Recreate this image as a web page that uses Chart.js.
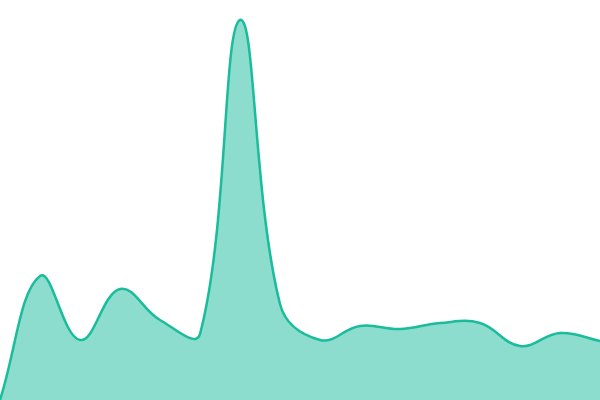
<!DOCTYPE html>
<html>
<head>
<meta charset="utf-8">
<script src="https://cdn.jsdelivr.net/npm/chart.js@4.4.1/dist/chart.umd.min.js"></script>
<style>
  html,body{margin:0;padding:0;background:#fff;}
  #wrap{width:600px;height:400px;}
</style>
</head>
<body>
<div id="wrap"><canvas id="c"></canvas></div>
<script>
// one point every 40px across the width
const labels = ['1','2','3','4','5','6','7','8','9','10','11','12','13','14','15','16'];
const values = [0, 124, 60, 111, 80, 66, 380, 96, 60, 74, 71, 77, 77, 54, 67, 59];
const yMin = 0, yMax = 400;

new Chart(document.getElementById('c'), {
  type: 'line',
  data: {
    labels,
    datasets: [{
      data: values,
      fill: 'origin',
      backgroundColor: 'rgba(26,188,156,0.5)',
      borderColor: '#1abc9c',
      borderWidth: 2.5,
      tension: 0.4,
      pointRadius: 0
    }]
  },
  options: {
    responsive: true,
    maintainAspectRatio: false,
    animation: false,
    layout: { padding: 0 },
    plugins: { legend: { display: false }, tooltip: { enabled: false } },
    scales: {
      x: { display: false, offset: false },
      y: { display: false, min: yMin, max: yMax }
    }
  }
});
</script>
</body>
</html>
